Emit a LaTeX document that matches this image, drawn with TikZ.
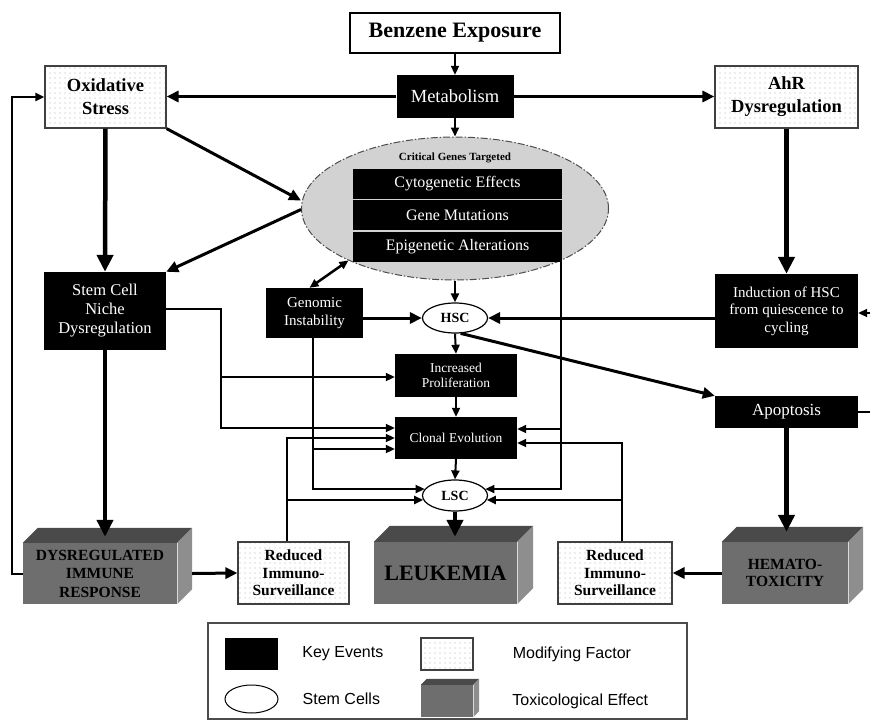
\documentclass[tikz,border=0pt]{standalone}
\usepackage{fontspec}
\setmainfont{Liberation Serif}
\setsansfont{Liberation Sans}
\usetikzlibrary{shapes.geometric, arrows.meta, positioning, patterns.meta}

\definecolor{toxfront}{HTML}{6E6E6E}
\definecolor{toxtop}{HTML}{4A4A4A}
\definecolor{toxside}{HTML}{8E8E8E}

% top and side faces of a 3D effect box
\newcommand{\toxdepth}[2]{%
    \fill[toxtop] (#1.north west) -- ++(#2,-#2) -- ([shift={(#2,-#2)}]#1.north east) -- (#1.north east) -- cycle;
    \fill[toxside] (#1.north east) -- ++(#2,-#2) -- ([shift={(#2,-#2)}]#1.south east) -- (#1.south east) -- cycle;
    \draw[gray!30, line width=0.8pt] (#1.north east) -- (#1.south east);
}

\begin{document}
\begin{tikzpicture}[
        x=1pt, y=-1pt,
        keyev/.style={rectangle, fill=black, text=white, inner sep=0pt, align=center},
        modif/.style={rectangle, draw=black!75, line width=1.2pt, pattern={Dots[distance=5pt, radius=0.55pt]}, pattern color=gray!60, inner sep=0pt, align=center},
        stem/.style={ellipse, draw, line width=1.2pt, fill=white, inner sep=0pt, minimum width=65pt, font=\bfseries\fontsize{14}{16}\selectfont},
        tox/.style={rectangle, fill=toxfront, inner sep=0pt, align=center},
        link/.style={line width=2pt, -{Triangle[length=9pt,width=8pt]}},
        conn/.style={line width=3pt, -{Triangle[length=12pt,width=11pt]}},
        bigconn/.style={line width=4.5pt, -{Triangle[length=17pt,width=16pt]}},
        legtext/.style={font=\sffamily\fontsize{16}{18}\selectfont, inner sep=0pt}
    ]
        \useasboundingbox (0,0) rectangle (870,728);

        % Top row
        \node[draw, line width=1.2pt, fill=white, minimum width=210pt, minimum height=40pt, font=\bfseries\fontsize{22}{24}\selectfont] (benz) at (455,33) {Benzene Exposure};
        \node[keyev, minimum width=117pt, minimum height=43pt, font=\fontsize{18.5}{20}\selectfont] (meta) at (455,96.5) {Metabolism};
        \node[modif, minimum width=121pt, minimum height=62pt, font=\bfseries\fontsize{18.5}{23}\selectfont] (os) at (105.5,97) {Oxidative\\Stress};
        \node[modif, minimum width=143pt, minimum height=62pt, font=\bfseries\fontsize{18.5}{23}\selectfont] (ahr) at (786.5,97) {AhR\\Dysregulation};

        % Critical genes
        \node[ellipse, draw=black!70, line width=1pt, dash pattern=on 7pt off 2pt on 1.5pt off 2pt, fill=gray!35, minimum width=307pt, minimum height=143pt] (crit) at (455,208.5) {};
        \node[font=\bfseries\fontsize{11}{12}\selectfont] (crittitle) at (455,158) {Critical Genes Targeted};
        \node[keyev, minimum width=209pt, minimum height=30pt, font=\fontsize{16}{18}\selectfont] (cyto) at (457.5,184) {Cytogenetic Effects};
        \node[keyev, minimum width=209pt, minimum height=30pt, font=\fontsize{16}{18}\selectfont, below=1pt of cyto] (mut) {Gene Mutations};
        \node[keyev, minimum width=209pt, minimum height=30pt, font=\fontsize{16}{18}\selectfont, below=1pt of mut] (epi) {Epigenetic Alterations};

        % Left column
        \node[keyev, minimum width=122pt, minimum height=78pt, font=\fontsize{16.5}{19}\selectfont] (scn) at (105,311) {Stem Cell\\Niche\\Dysregulation};
        \node[tox, minimum width=154pt, minimum height=61pt, font=\bfseries\fontsize{15.5}{18.5}\selectfont] (dir) at (100,573.5) {DYSREGULATED\\IMMUNE\\RESPONSE};
        \toxdepth{dir}{15}

        % Middle column
        \node[keyev, minimum width=97pt, minimum height=50pt, font=\fontsize{15}{18}\selectfont] (gen) at (314.5,313) {Genomic\\Instability};
        \node[stem, minimum height=30pt] (hsc) at (455,318) {HSC};
        \node[keyev, minimum width=122pt, minimum height=43pt, font=\fontsize{13.5}{15.5}\selectfont] (ip) at (456,375.5) {Increased\\Proliferation};
        \node[keyev, minimum width=122pt, minimum height=42pt, font=\fontsize{13.5}{15.5}\selectfont] (ce) at (456,438) {Clonal Evolution};
        \node[stem, minimum height=31pt] (lsc) at (455,495.5) {LSC};
        \node[tox, minimum width=143pt, minimum height=62pt, font=\bfseries\fontsize{22}{24}\selectfont] (leuk) at (445.5,573) {LEUKEMIA};
        \toxdepth{leuk}{16}
        \node[modif, minimum width=111pt, minimum height=62pt, font=\bfseries\fontsize{15.5}{17.5}\selectfont] (risl) at (293.5,573) {Reduced\\Immuno-\\Surveillance};
        \node[modif, minimum width=114pt, minimum height=62pt, font=\bfseries\fontsize{15.5}{17.5}\selectfont] (risr) at (615,573) {Reduced\\Immuno-\\Surveillance};

        % Right column
        \node[keyev, minimum width=143pt, minimum height=74pt, font=\fontsize{15}{17.5}\selectfont] (ind) at (786.5,311) {Induction of HSC\\from quiescence to\\cycling};
        \node[keyev, minimum width=143pt, minimum height=32pt, font=\fontsize{17}{18}\selectfont] (apop) at (786.5,412) {Apoptosis};
        \node[tox, minimum width=126pt, minimum height=62pt, font=\bfseries\fontsize{15.5}{17}\selectfont] (hemat) at (785,573) {HEMATO-\\TOXICITY};
        \toxdepth{hemat}{15}

        % Arrows top
        \draw[link] (benz.south) -- (meta.north);
        \draw[link] (meta.south) -- (crit.north);
        \draw[conn] (meta.west) -- (meta.west -| os.east);
        \draw[conn] (meta.east) -- (meta.east -| ahr.west);
        \draw[conn] (os.south east) -- ([yshift=8pt]crit.west);
        \draw[conn] ([yshift=-1pt]crit.west) -- (scn.north east);
        \draw[bigconn] (os.south) -- (scn.north);
        \draw[bigconn] (ahr.south) -- (ind.north);
        \draw[line width=2.5pt, {Triangle[length=9pt,width=8pt]}-{Triangle[length=9pt,width=8pt]}] ([xshift=-5pt]gen.north) -- (crit.206);

        % Arrows middle
        \draw[conn] (hsc.west -| gen.east) -- (hsc.west);
        \draw[conn] (hsc.east -| ind.west) -- (hsc.east);
        \draw[link] (crit.south) -- (hsc.north);
        \draw[link] (hsc.south) -- (ip.north);
        \draw[link] (ip.south) -- (ce.north);
        \draw[link] (ce.south) -- (lsc.north);
        \draw[conn] (hsc.-70) -- (apop.north west);
        \draw[link] ([yshift=2pt]scn.east) -- ++(55,0) |- ([yshift=-1.5pt]ip.west);
        \draw[link] ([yshift=2pt]scn.east) -- ++(55,0) |- ([yshift=10pt]ce.west);
        \draw[link] ([xshift=-2pt]gen.south) |- ([yshift=-11pt]ce.west);
        \draw[link] ([xshift=-2pt]gen.south) |- (lsc.168);
        \draw[link] ([xshift=-6.5pt]risl.north) |- (ce.west);
        \draw[link] ([xshift=-6.5pt]risl.north) |- (lsc.188);
        \draw[link] ([xshift=-1pt]epi.south east) |- ([yshift=9pt]ce.east);
        \draw[link] ([xshift=-1pt]epi.south east) |- (lsc.12);
        \draw[link] ([xshift=7pt]risr.north) |- ([yshift=-5pt]ce.east);
        \draw[link] ([xshift=7pt]risr.north) |- (lsc.352);
        \draw[link] (apop.east) -- ++(17,0) |- ([yshift=-2pt]ind.east);

        % Arrows bottom
        \draw[bigconn] (scn.south) -- ([yshift=6pt]scn.south |- dir.north);
        \draw[bigconn] (lsc.south) -- ([yshift=5pt]lsc.south |- leuk.north);
        \draw[bigconn] (apop.south) -- ([yshift=10pt]apop.south |- hemat.north);
        \draw[link] (dir.west) -- ++(-11,0) |- (os.west);
        \draw[conn] ([xshift=15pt]dir.east) -- (risl.west);
        \draw[conn] (hemat.west) -- (risr.east);

        % Legend
        \node[draw=black!70, line width=1.2pt, minimum width=479pt, minimum height=96pt] (legend) at (447.5,671) {};
        \node[keyev, minimum width=53pt, minimum height=32pt] (lkey) at (251.5,654) {};
        \node[legtext, right=24pt of lkey] (lkeytxt) {Key Events};
        \node[modif, minimum width=52pt, minimum height=32pt] (lmod) at (447,654) {};
        \node[legtext, right=39pt of lmod] (lmodtxt) {Modifying Factor};
        \node[ellipse, draw, line width=1pt, minimum width=53pt, minimum height=28pt] (lstem) at (251.5,699) {};
        \node[legtext, right=24pt of lstem] (lstemtxt) {Stem Cells};
        \node[tox, minimum width=52pt, minimum height=32pt] (ltox) at (447,701) {};
        \toxdepth{ltox}{6}
        \node[legtext, right=39pt of ltox] (ltoxtxt) {Toxicological Effect};
    \end{tikzpicture}
\end{document}
